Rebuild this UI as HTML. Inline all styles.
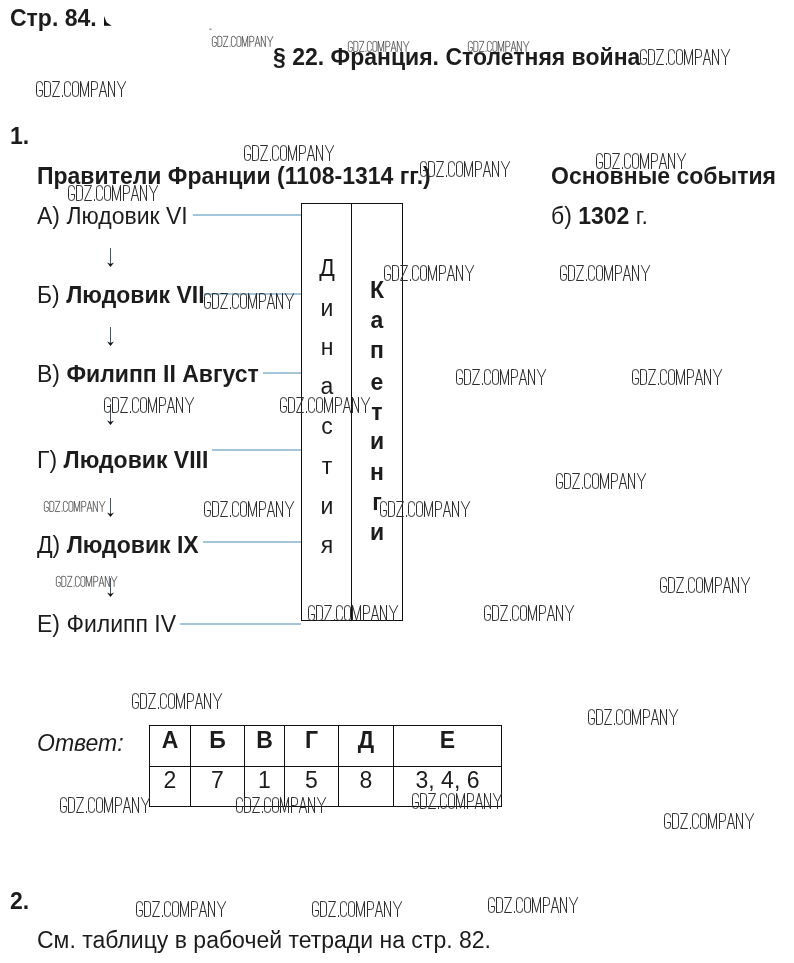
<!DOCTYPE html>
<html><head><meta charset="utf-8">
<style>
html,body{margin:0;padding:0;background:#fff;}
body{width:794px;height:963px;position:relative;overflow:hidden;font-family:"Liberation Sans",sans-serif;color:#1c1c1c;}
.t{position:absolute;white-space:nowrap;font-size:23px;line-height:23px;}
.b{font-weight:bold;}
.L{position:absolute;font-size:23px;line-height:23px;width:50px;text-align:center;}
.tc{position:absolute;font-size:23px;line-height:23px;text-align:center;white-space:nowrap;}
svg.ov{position:absolute;left:0;top:0;}
.t,.L,.tc{will-change:transform;}
</style></head><body>

<div class="t b" style="left:10px;top:7px;">Стр. 84.</div>
<div class="t b" style="left:273px;top:46px;">§ 22. Франция. Столетняя война</div>
<div class="t b" style="left:10px;top:125px;">1.</div>
<div class="t b" style="left:37px;top:165px;">Правители Франции (1108-1314 гг.)</div>
<div class="t b" style="left:551px;top:165px;">Основные события</div>
<div class="t" style="left:37px;top:205px;">А) Людовик VI</div>
<div class="t" style="left:551px;top:205px;">б) <b>1302</b> г.</div>
<div class="t" style="left:37px;top:284px;">Б) <b>Людовик VII</b></div>
<div class="t" style="left:37px;top:363px;">В) <b>Филипп II Август</b></div>
<div class="t" style="left:37px;top:449px;">Г) <b>Людовик VIII</b></div>
<div class="t" style="left:37px;top:534px;">Д) <b>Людовик IX</b></div>
<div class="t" style="left:37px;top:613px;">Е) Филипп IV</div>
<div class="t" style="left:37px;top:732px;font-style:italic;">Ответ:</div>
<div class="t b" style="left:10px;top:890px;">2.</div>
<div class="t" style="left:37px;top:929px;">См. таблицу в рабочей тетради на стр. 82.</div>

<div class="L" style="left:302px;top:257px;">Д</div>
<div class="L" style="left:302px;top:297px;">и</div>
<div class="L" style="left:302px;top:336px;">н</div>
<div class="L" style="left:302px;top:375px;">а</div>
<div class="L" style="left:302px;top:415px;">с</div>
<div class="L" style="left:302px;top:455px;">т</div>
<div class="L" style="left:302px;top:495px;">и</div>
<div class="L" style="left:302px;top:534px;">я</div>
<div class="L b" style="left:352px;top:279px;">К</div>
<div class="L b" style="left:352px;top:309px;">а</div>
<div class="L b" style="left:352px;top:339px;">п</div>
<div class="L b" style="left:352px;top:371px;">е</div>
<div class="L b" style="left:352px;top:401px;">т</div>
<div class="L b" style="left:352px;top:430px;">и</div>
<div class="L b" style="left:352px;top:461px;">н</div>
<div class="L b" style="left:352px;top:491px;">г</div>
<div class="L b" style="left:352px;top:521px;">и</div>

<div class="tc b" style="left:150px;width:40px;top:729px;">А</div>
<div class="tc" style="left:150px;width:40px;top:769px;">2</div>
<div class="tc b" style="left:191px;width:53px;top:729px;">Б</div>
<div class="tc" style="left:191px;width:53px;top:769px;">7</div>
<div class="tc b" style="left:245px;width:39px;top:729px;">В</div>
<div class="tc" style="left:245px;width:39px;top:769px;">1</div>
<div class="tc b" style="left:285px;width:53px;top:729px;">Г</div>
<div class="tc" style="left:285px;width:53px;top:769px;">5</div>
<div class="tc b" style="left:339px;width:54px;top:729px;">Д</div>
<div class="tc" style="left:339px;width:54px;top:769px;">8</div>
<div class="tc b" style="left:394px;width:107px;top:729px;">Е</div>
<div class="tc" style="left:394px;width:107px;top:769px;">3, 4, 6</div>

<svg class="ov" width="794" height="963" viewBox="0 0 794 963">
<defs><g id="wm"><path d="M6.5,4.5 V3.3 Q6.5,0.5 3.5,0.5 Q0.5,0.5 0.5,3.3 V12.7 Q0.5,15.5 3.5,15.5 Q6.5,15.5 6.5,12.7 V9.5 H3 M8.5,0.5 H11.7 Q14.5,0.5 14.5,3.3 V12.7 Q14.5,15.5 11.7,15.5 H8.5 Z M16.3,0.5 H23.5 L16.5,15.5 H23.8 M26.5,14.2 V16 M34.5,4.5 V3.3 Q34.5,0.5 31.5,0.5 Q28.5,0.5 28.5,3.3 V12.7 Q28.5,15.5 31.5,15.5 Q34.5,15.5 34.5,12.7 V11.5 M39.5,0.5 Q42.5,0.5 42.5,3.3 V12.7 Q42.5,15.5 39.5,15.5 Q36.5,15.5 36.5,12.7 V3.3 Q36.5,0.5 39.5,0.5 Z M44.5,16 V0.3 L48.5,15.2 L52.5,0.3 V16 M55.5,16 V0.5 H58.7 Q61.5,0.5 61.5,3.3 V5.7 Q61.5,8.5 58.7,8.5 H55.5 M63.2,16 L66.9,0.2 L70.8,16 M64.4,10.5 H69.6 M72.5,16 V0.2 L78.5,15.8 V0 M81.2,0.2 L85.5,8.7 L89.8,0.2 M85.5,8.7 V16" fill="none" stroke="#2e2e2e" stroke-width="1" stroke-linecap="butt" stroke-linejoin="round"/></g></defs>
<rect x="301" y="203" width="102" height="1" fill="#111"/>
<rect x="301" y="620" width="102" height="1" fill="#111"/>
<rect x="301" y="203" width="1" height="418" fill="#111"/>
<rect x="351" y="203" width="1" height="418" fill="#111"/>
<rect x="402" y="203" width="1" height="418" fill="#111"/>
<rect x="149" y="725" width="353" height="1" fill="#111"/>
<rect x="149" y="766" width="353" height="1" fill="#111"/>
<rect x="149" y="806" width="353" height="1" fill="#111"/>
<rect x="149" y="725" width="1" height="82" fill="#111"/>
<rect x="190" y="725" width="1" height="82" fill="#111"/>
<rect x="244" y="725" width="1" height="82" fill="#111"/>
<rect x="284" y="725" width="1" height="82" fill="#111"/>
<rect x="338" y="725" width="1" height="82" fill="#111"/>
<rect x="393" y="725" width="1" height="82" fill="#111"/>
<rect x="501" y="725" width="1" height="82" fill="#111"/>
<rect x="193" y="214" width="108" height="2" fill="#a3c6da"/>
<rect x="204" y="293" width="97" height="2" fill="#a3c6da"/>
<rect x="263" y="372" width="38" height="2" fill="#a3c6da"/>
<rect x="212" y="449" width="89" height="2" fill="#a3c6da"/>
<rect x="203" y="541" width="98" height="2" fill="#a3c6da"/>
<rect x="180" y="623" width="121" height="2" fill="#a3c6da"/>
<rect x="110" y="248" width="1" height="16" fill="#445566"/>
<path d="M107,262.5 L110.5,267 L114,262.5 L110.5,264 Z" fill="#111"/>
<rect x="110" y="327" width="1" height="16" fill="#445566"/>
<path d="M107,341.5 L110.5,346 L114,341.5 L110.5,343 Z" fill="#111"/>
<rect x="110" y="404" width="1" height="18" fill="#445566"/>
<path d="M107,420.5 L110.5,425 L114,420.5 L110.5,422 Z" fill="#111"/>
<rect x="110" y="498" width="1" height="16" fill="#445566"/>
<path d="M107,512.5 L110.5,517 L114,512.5 L110.5,514 Z" fill="#111"/>
<rect x="110" y="578" width="1" height="16" fill="#445566"/>
<path d="M107,592.5 L110.5,597 L114,592.5 L110.5,594 Z" fill="#111"/>
<path d="M104,16 L106.6,22.6 L111.7,25.8 L104,25.8 Z" fill="#111"/>
<rect x="209.5" y="28.6" width="2" height="1.2" fill="#777"/>
<use href="#wm" transform="translate(640,49)"/>
<use href="#wm" transform="translate(36,81)"/>
<use href="#wm" transform="translate(244,145)"/>
<use href="#wm" transform="translate(596,153)"/>
<use href="#wm" transform="translate(420,161)"/>
<use href="#wm" transform="translate(68,185)"/>
<use href="#wm" transform="translate(384,265)"/>
<use href="#wm" transform="translate(560,265)"/>
<use href="#wm" transform="translate(204,293)"/>
<use href="#wm" transform="translate(456,369)"/>
<use href="#wm" transform="translate(632,369)"/>
<use href="#wm" transform="translate(104,397)"/>
<use href="#wm" transform="translate(280,397)"/>
<use href="#wm" transform="translate(556,473)"/>
<use href="#wm" transform="translate(204,501)"/>
<use href="#wm" transform="translate(380,501)"/>
<use href="#wm" transform="translate(660,577)"/>
<use href="#wm" transform="translate(308,605)"/>
<use href="#wm" transform="translate(484,605)"/>
<use href="#wm" transform="translate(132,693)"/>
<use href="#wm" transform="translate(588,709)"/>
<use href="#wm" transform="translate(60,797)"/>
<use href="#wm" transform="translate(236,797)"/>
<use href="#wm" transform="translate(412,793)"/>
<use href="#wm" transform="translate(664,813)"/>
<use href="#wm" transform="translate(136,901)"/>
<use href="#wm" transform="translate(312,901)"/>
<use href="#wm" transform="translate(488,897)"/>
<use href="#wm" transform="translate(212,36) scale(0.68)"/>
<use href="#wm" transform="translate(348,41) scale(0.68)"/>
<use href="#wm" transform="translate(468,41) scale(0.68)"/>
<use href="#wm" transform="translate(44,501) scale(0.68)"/>
<use href="#wm" transform="translate(56,576) scale(0.68)"/>
</svg>
</body></html>
